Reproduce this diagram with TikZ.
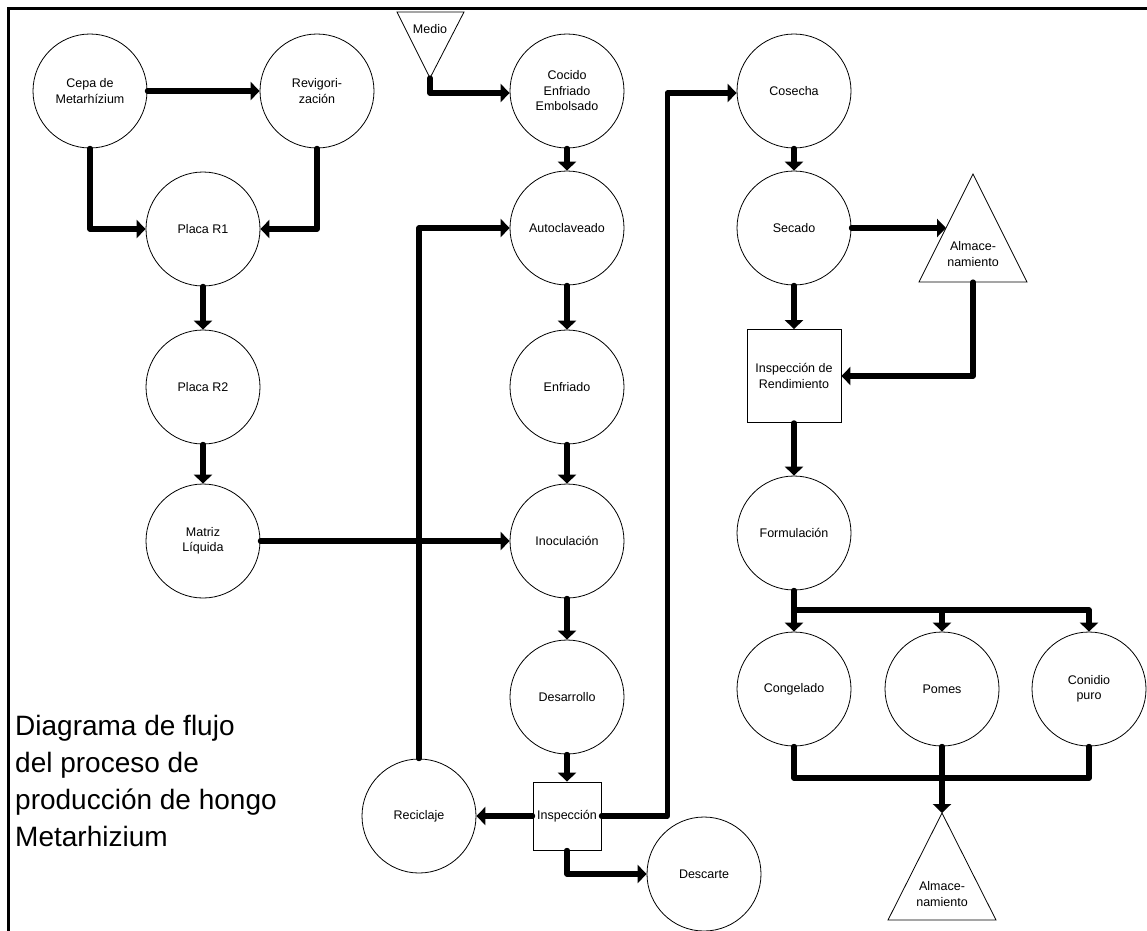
\documentclass[tikz,border=0pt]{standalone}
\usepackage{fontspec}
\setmainfont{Liberation Sans}
\usetikzlibrary{arrows.meta}
\begin{document}
\begin{tikzpicture}[x=1pt,y=-1pt,
  proc/.style={draw,circle,minimum size=114pt,inner sep=0pt,line width=0.8pt,align=center,font=\fontsize{12.5}{15.5}\selectfont},
  boxnode/.style={draw,rectangle,inner sep=0pt,line width=0.8pt,align=center,font=\fontsize{12.5}{15.5}\selectfont},
  lbl/.style={inner sep=0pt,align=center,font=\fontsize{12.5}{15.5}\selectfont},
  tri/.style={draw,line width=0.8pt,line join=miter},
  conn/.style={line width=5.2pt,line cap=round,line join=round},
  arr/.style={conn,-{Triangle[length=9pt,width=18pt]}}]
\useasboundingbox (0,0) rectangle (1147,930);
\fill[white] (0,0) rectangle (1147,930);
\draw[line width=3pt] (8,935) -- (8,8) -- (1150,8);

% left column
\node[proc] (cepa) at (90,91) {Cepa de\\Metarhízium};
\node[proc] (revig) at (317,91) {Revigori-\\zación};
\node[proc] (r1) at (203,229) {Placa R1};
\node[proc] (r2) at (203,387) {Placa R2};
\node[proc] (matriz) at (203,541) {Matriz\\Líquida};

% middle column
\draw[tri] (397,12) -- (464,12) -- (430,78) -- cycle;
\node[lbl] (medio) at (430,29) {Medio};
\coordinate (medioApex) at (430,78);
\node[proc] (cocido) at (567,91) {Cocido\\Enfriado\\Embolsado};
\node[proc] (auto) at (567,228) {Autoclaveado};
\node[proc] (enfr) at (567,387) {Enfriado};
\node[proc] (inoc) at (567,541) {Inoculación};
\node[proc] (desa) at (567,697) {Desarrollo};
\node[boxnode,minimum width=68pt,minimum height=68pt] (insp) at (567,816) {Inspección};
\node[proc] (recic) at (419,816) {Reciclaje};
\node[proc] (desc) at (704,874) {Descarte};

% right column
\node[proc] (cosecha) at (794,91) {Cosecha};
\node[proc] (secado) at (794,228) {Secado};
\draw[tri] (973,174) -- (1027,282) -- (919,282) -- cycle;
\node[lbl] (alm1) at (973,254) {Almace-\\namiento};
\coordinate (alm1L) at (946,228);
\coordinate (alm1B) at (973,282);
\node[boxnode,minimum width=94pt,minimum height=93pt] (inspR) at (794,376) {Inspección de\\Rendimiento};
\node[proc] (formul) at (794,533) {Formulación};
\node[proc] (cong) at (794,689) {Congelado};
\node[proc] (pomes) at (942,689) {Pomes};
\node[proc] (conid) at (1089,689) {Conidio\\puro};
\draw[tri] (942,813) -- (996,920) -- (888,920) -- cycle;
\node[lbl] (alm2) at (942,894) {Almace-\\namiento};
\coordinate (alm2apex) at (942,813);

% title
\node[anchor=north west,inner sep=0pt,align=left,font=\fontsize{28}{37}\selectfont] (title) at (15,715)
  {Diagrama de flujo\\del proceso de\\producción de hongo\\Metarhizium};

% connectors
\draw[arr] (cepa.east) -- (revig.west);
\draw[arr] (cepa.south) |- (r1.west);
\draw[arr] (revig.south) |- (r1.east);
\draw[arr] (r1.south) -- (r2.north);
\draw[arr] (r2.south) -- (matriz.north);
\draw[arr] (matriz.east) -- (inoc.west);

\draw[arr] (medioApex) |- ([yshift=-2pt]cocido.west);
\draw[arr] (cocido.south) -- (auto.north);
\draw[arr] (auto.south) -- (enfr.north);
\draw[arr] (enfr.south) -- (inoc.north);
\draw[arr] (inoc.south) -- (desa.north);
\draw[arr] (desa.south) -- (insp.north);
\draw[arr] (insp.west) -- (recic.east);
\draw[arr] (insp.south) |- (desc.west);
\draw[arr] (insp.east) -- ++(66,0) |- ([yshift=-2pt]cosecha.west);
\draw[arr] (recic.north) |- (auto.west);

\draw[arr] (cosecha.south) -- (secado.north);
\draw[arr] (secado.east) -- (alm1L);
\draw[arr] (secado.south) -- (inspR.north);
\draw[arr] (alm1B) |- (inspR.east);
\draw[arr] (inspR.south) -- (formul.north);

\coordinate (split) at (794,610);
\draw[arr] (formul.south) -- (cong.north);
\draw[arr] (split) -| (pomes.north);
\draw[arr] (split) -| (conid.north);

\coordinate (merge) at (942,778);
\draw[conn] (cong.south) |- (merge);
\draw[conn] (conid.south) |- (merge);
\draw[arr] (pomes.south) -- (alm2apex);
\end{tikzpicture}
\end{document}
